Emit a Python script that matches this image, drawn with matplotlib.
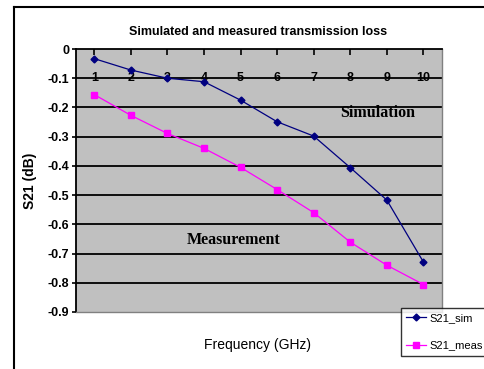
import matplotlib
matplotlib.use("Agg")
from matplotlib import pyplot as plt
from matplotlib.lines import Line2D

# data
freq = [1, 2, 3, 4, 5, 6, 7, 8, 9, 10]
s21_sim = [-0.033, -0.072, -0.100, -0.112, -0.175, -0.249, -0.298, -0.406, -0.517, -0.729]
s21_meas = [-0.156, -0.227, -0.289, -0.340, -0.405, -0.481, -0.560, -0.661, -0.740, -0.806]
y_ticks = [0, -0.1, -0.2, -0.3, -0.4, -0.5, -0.6, -0.7, -0.8, -0.9]
y_labels = ["0", "-0.1", "-0.2", "-0.3", "-0.4", "-0.5", "-0.6", "-0.7", "-0.8", "-0.9"]

plt.rcParams["font.family"] = ["Liberation Sans", "DejaVu Sans"]
serif = ["Liberation Serif", "DejaVu Serif"]

fig = plt.figure(figsize=(4.84, 3.69), dpi=100)
ax = fig.add_axes([0.157, 0.1545, 0.7556, 0.7127])
ax.set_facecolor("#c0c0c0")

# outer chart frame (left and top edges visible)
fig.add_artist(Line2D([0.029, 0.029], [0.981, -0.01], transform=fig.transFigure,
                      color="black", lw=1.5))
fig.add_artist(Line2D([0.029, 1.01], [0.981, 0.981], transform=fig.transFigure,
                      color="black", lw=1.5))

for y in y_ticks[1:-1]:
    ax.axhline(y, color="black", lw=1.3, zorder=1)

ax.plot(freq, s21_sim, color="#000080", marker="D", markersize=3.5, lw=0.9,
        label="S21_sim", zorder=3)
ax.plot(freq, s21_meas, color="#ff00ff", marker="s", markersize=5, lw=0.9,
        label="S21_meas", zorder=3)

ax.set_xlim(0.5, 10.5)
ax.set_ylim(-0.9, 0)
ax.set_yticks(y_ticks)
ax.set_yticklabels(y_labels, fontsize=9, fontweight="bold")
ax.tick_params(axis="y", direction="out", length=3, width=1.2, pad=2)

ax.xaxis.tick_top()
ax.set_xticks(freq)
ax.set_xticklabels([])
ax.tick_params(axis="x", direction="in", length=4, width=1.2)
for f in freq:
    ax.text(f, -0.1, str(f), ha="center", va="center", fontsize=9,
            fontweight="bold", zorder=2)

for side in ["left", "top"]:
    ax.spines[side].set_color("black")
    ax.spines[side].set_linewidth(1.3)
for side in ["right", "bottom"]:
    ax.spines[side].set_color("#808080")
    ax.spines[side].set_linewidth(1.0)

fig.text(0.533, 0.913, "Simulated and measured transmission loss", ha="center",
         va="center", fontsize=9, fontweight="bold")
fig.text(0.063, 0.51, "S21 (dB)", ha="center", va="center", rotation=90,
         fontsize=10, fontweight="bold")
fig.text(0.533, 0.065, "Frequency (GHz)", ha="center", va="center", fontsize=10)

ax.text(8.75, -0.22, "Simulation", ha="center", va="center", fontsize=11.5,
        fontweight="bold", family=serif)
ax.text(4.8, -0.655, "Measurement", ha="center", va="center", fontsize=11.5,
        fontweight="bold", family=serif)

leg = fig.legend(loc="upper left", bbox_to_anchor=(0.829, 0.166), fontsize=8,
                 frameon=True, fancybox=False, handlelength=1.8, borderpad=0.45,
                 labelspacing=1.6, handletextpad=0.25, borderaxespad=0)
leg.get_frame().set_edgecolor("black")
leg.get_frame().set_linewidth(1.0)

fig.savefig("out.png", dpi=100)
